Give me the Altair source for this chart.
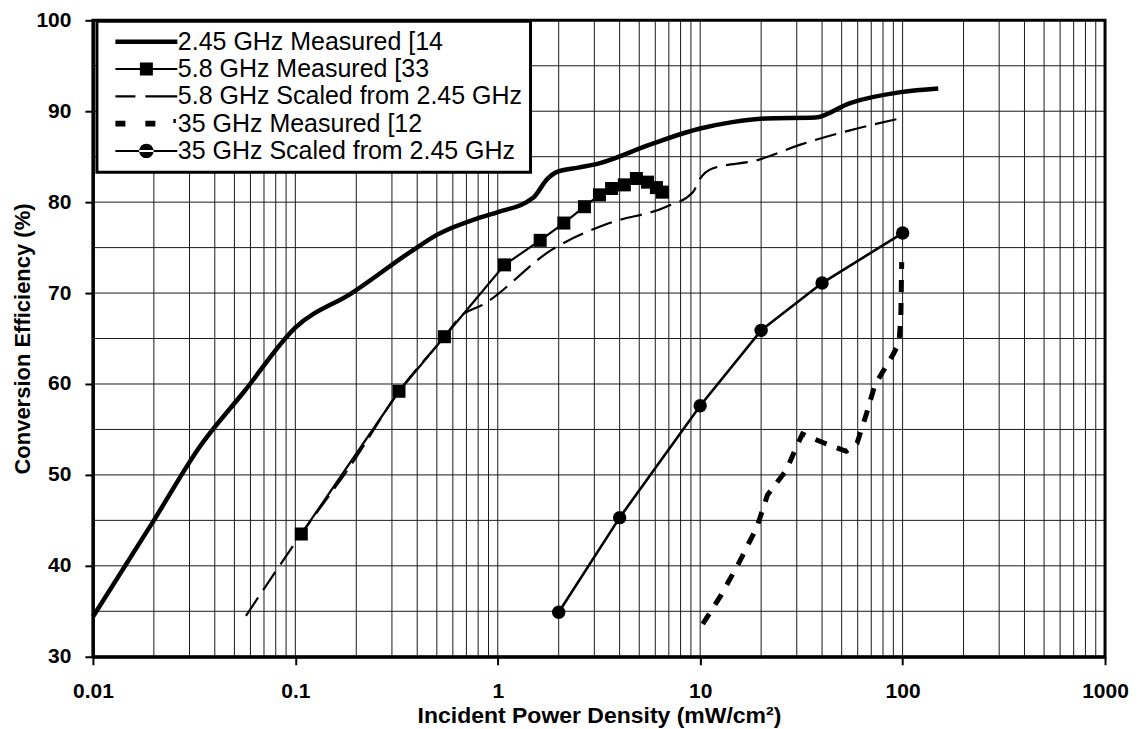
import altair as alt
import pandas as pd

# ---- data ----
series_names = [
    "2.45 GHz Measured [14",
    "5.8 GHz Measured [33",
    "5.8 GHz Scaled from 2.45 GHz",
    "35 GHz Measured [12",
    "35 GHz Scaled from 2.45 GHz",
]

m245_x = [0.01, 0.02, 0.0337, 0.056, 0.1, 0.19, 0.38, 0.5, 0.79, 1.0, 1.5, 1.75, 1.95, 2.5, 3.2, 5.6, 10, 14.4, 21, 37, 55, 98, 150]
m245_y = [34.4, 45.0, 53.1, 59.2, 66.2, 70.0, 74.7, 76.4, 78.2, 78.9, 80.5, 82.5, 83.3, 83.8, 84.3, 86.3, 88.1, 88.8, 89.2, 89.3, 90.9, 92.1, 92.5]

m58_x = [0.107, 0.325, 0.545, 1.08, 1.62, 2.12, 2.68, 3.18, 3.65, 4.22, 4.84, 5.49, 6.08, 6.51]
m58_y = [43.5, 59.2, 65.2, 73.1, 75.8, 77.7, 79.5, 80.8, 81.5, 81.9, 82.6, 82.2, 81.6, 81.1]

s58_x = [0.057, 0.107, 0.19, 0.325, 0.545, 0.66, 0.84, 1.86, 3.56, 6.8, 9.2, 10.0, 11.5, 19, 31, 55, 97]
s58_y = [34.5, 43.5, 51.2, 59.2, 65.2, 67.5, 68.7, 74.8, 77.7, 79.5, 81.1, 82.6, 83.7, 84.6, 86.3, 87.9, 89.2]

m35_x = [10.3, 12.7, 15.6, 19.1, 21.5, 26.6, 30.2, 32.0, 35.3, 42.1, 52.7, 59.6, 66, 73, 90, 96, 98, 98.5, 99]
m35_y = [33.6, 36.8, 40.4, 44.3, 47.8, 50.5, 53.3, 54.5, 54.1, 53.4, 52.6, 53.5, 56.6, 59.9, 63.3, 64.5, 67.5, 70.5, 73.4]

s35_x = [2, 4, 10, 20, 40, 100]
s35_y = [34.9, 45.3, 57.6, 65.9, 71.1, 76.6]

x_tick_values = [0.01, 0.1, 1, 10, 100, 1000]
y_tick_values = [30, 40, 50, 60, 70, 80, 90, 100]
vgrid_values = [k * 10.0 ** e for e in range(-2, 3) for k in range(1, 10)][1:]
hgrid_values = [35, 40, 45, 50, 55, 60, 65, 70, 75, 80, 85, 90, 95]

# legend symbols (custom paths, unit = 10 px)
legend_paths = [
    "M-3.1,-0.22H3.1V0.22H-3.1Z",
    "M-3.1,-0.1H3.1V0.1H-3.1Z M-0.65,-0.65H0.65V0.65H-0.65Z",
    "M-3.1,-0.11H-1.1V0.11H-3.1Z M-0.1,-0.11H3.1V0.11H-0.1Z",
    "M-3.1,-0.28H-2.1V0.28H-3.1Z M-0.1,-0.28H0.9V0.28H-0.1Z M2.7,-0.45H2.95V-0.05H2.7Z",
    "M-3.1,-0.1H3.1V0.1H-3.1Z M-0.72,0A0.72,0.72 0 1,0 0.72,0A0.72,0.72 0 1,0 -0.72,0Z",
]

FONT = "Liberation Sans"

xscale = alt.Scale(type="log", domain=[0.01, 1000], nice=False)
yscale = alt.Scale(domain=[30, 100], nice=False, zero=False)

X = alt.X(
    "x:Q",
    scale=xscale,
    axis=alt.Axis(
        values=x_tick_values, format="~g", grid=False,
        tickSize=8, tickWidth=2, tickColor="black",
        domainColor="black", domainWidth=3,
        labelFont=FONT, labelFontWeight="bold", labelFontSize=21, labelColor="black",
        labelPadding=16, labelFlush=False, labelOverlap=False,
        titleFont=FONT, titleFontWeight="bold", titleFontSize=23, titleColor="black",
        titlePadding=3,
    ),
    title="Incident Power Density (mW/cm²)",
)
Y = alt.Y(
    "y:Q",
    scale=yscale,
    axis=alt.Axis(
        values=y_tick_values, grid=False,
        tickSize=8, tickWidth=2, tickColor="black",
        domainColor="black", domainWidth=3,
        labelFont=FONT, labelFontWeight="bold", labelFontSize=21, labelColor="black",
        labelPadding=14, labelFlush=False,
        titleFont=FONT, titleFontWeight="bold", titleFontSize=22, titleColor="black",
        titlePadding=1,
    ),
    title="Conversion Efficiency (%)",
)

vgrid = alt.Chart(pd.DataFrame({"x": vgrid_values})).mark_rule(
    color="#1a1a1a", strokeWidth=1
).encode(x=X)
hgrid = alt.Chart(pd.DataFrame({"y": hgrid_values})).mark_rule(
    color="#1a1a1a", strokeWidth=1
).encode(y=Y)

s58 = alt.Chart(pd.DataFrame({"x": s58_x, "y": s58_y})).mark_line(
    color="black", strokeWidth=2.2, strokeDash=[22, 9], interpolate="monotone"
).encode(x=X, y=Y)

m35 = alt.Chart(pd.DataFrame({"x": m35_x, "y": m35_y})).mark_line(
    color="black", strokeWidth=5, strokeDash=[12, 11], strokeCap="butt"
).encode(x=X, y=Y)

m245 = alt.Chart(pd.DataFrame({"x": m245_x, "y": m245_y})).mark_line(
    color="black", strokeWidth=4.5, interpolate="monotone"
).encode(x=X, y=Y)

m58 = alt.Chart(pd.DataFrame({"x": m58_x, "y": m58_y})).mark_line(
    color="black", strokeWidth=2.2,
    point=alt.OverlayMarkDef(shape="square", size=170, filled=True, color="black", opacity=1),
).encode(x=X, y=Y)

s35 = alt.Chart(pd.DataFrame({"x": s35_x, "y": s35_y})).mark_line(
    color="black", strokeWidth=2.6,
    point=alt.OverlayMarkDef(shape="circle", size=180, filled=True, color="black", opacity=1),
).encode(x=X, y=Y)

legend_df = pd.DataFrame({"series": series_names, "x": [1.0] * 5, "y": [0.0] * 5})
legend_layer = alt.Chart(legend_df).mark_point(
    filled=True, size=400, opacity=1, color="black", strokeWidth=0, clip=True
).encode(
    x=X, y=Y,
    shape=alt.Shape(
        "series:N",
        scale=alt.Scale(domain=series_names, range=legend_paths),
        legend=alt.Legend(
            title=None, orient="none", legendX=4, legendY=1, direction="vertical",
            padding=8, strokeColor="black", fillColor="white",
            labelFont=FONT, labelFontSize=25, labelColor="black", labelLimit=600,
            labelOffset=19, symbolOffset=29, rowPadding=1.3,
            symbolSize=400, symbolStrokeWidth=0, symbolFillColor="black",
            symbolOpacity=1,
        ),
    ),
)

chart = alt.layer(vgrid, hgrid, s58, m35, m245, m58, s35, legend_layer).properties(
    width=1013, height=637,
    autosize=alt.AutoSizeParams(type="none"),
    padding={"left": 85, "top": 12, "right": 30, "bottom": 72},
    background="white",
).configure_view(stroke="black", strokeWidth=3).configure_legend(strokeWidth=3)

chart.save("out.html", embed_options={"renderer": "svg", "actions": False})
